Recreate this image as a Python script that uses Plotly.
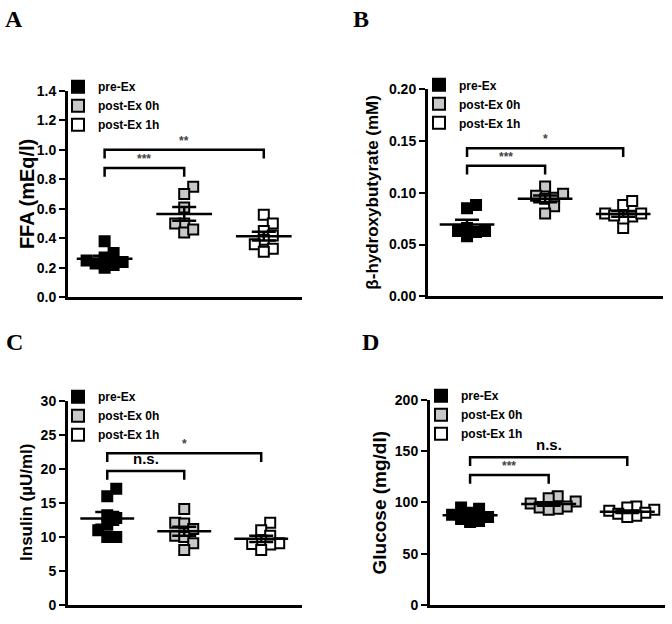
import numpy as np
import plotly.graph_objects as go

W, H = 672, 624

groups = ["pre-Ex", "post-Ex 0h", "post-Ex 1h"]
group_fill = ["#000000", "#c8c8c8", "#ffffff"]

# ---------------- data ----------------
ffa_pre = [0.38, 0.30, 0.27, 0.25, 0.24, 0.22, 0.20, 0.23]
ffa_post0 = [0.75, 0.70, 0.61, 0.50, 0.50, 0.44, 0.46]
ffa_post1 = [0.56, 0.50, 0.45, 0.42, 0.39, 0.36, 0.33, 0.31]

bhb_pre = [0.088, 0.085, 0.066, 0.063, 0.058, 0.062, 0.063]
bhb_post0 = [0.106, 0.097, 0.095, 0.094, 0.087, 0.080, 0.099]
bhb_post1 = [0.088, 0.092, 0.077, 0.066, 0.075, 0.080, 0.080, 0.078]

ins_pre = [17.1, 16.0, 13.2, 12.8, 11.0, 11.8, 10.0, 10.0]
ins_post0 = [14.1, 12.1, 12.0, 11.2, 10.2, 10.0, 9.1, 8.1]
ins_post1 = [12.1, 11.0, 10.2, 9.5, 9.1, 9.0, 8.9, 8.1]

glu_pre = [95, 94, 90, 88, 86, 84, 82, 81]
glu_post0 = [106, 104, 101, 99, 96, 95, 94, 93]
glu_post1 = [96, 95, 93, 92, 90, 89, 87, 86]

# significance brackets: (group from, group to, bracket level, label)
ffa_sig = [(0, 1, 0.877, "***"), (0, 2, 1.0, "**")]
bhb_sig = [(0, 1, 0.126, "***"), (0, 2, 0.1427, "*")]
ins_sig = [(0, 1, 19.7, "n.s."), (0, 2, 22.3, "*")]
glu_sig = [(0, 1, 126.7, "***"), (0, 2, 144.0, "n.s.")]

panel_letters = ["A", "B", "C", "D"]
y_titles = ["FFA (mEq/l)", "β-hydroxybutyrate (mM)", "Insulin (µU/ml)", "Glucose (mg/dl)"]
y_title_sizes = [20, 17, 17, 19]
y_ranges = [(0, 1.4), (0, 0.20), (0, 30), (0, 200)]
y_dticks = [0.2, 0.05, 5, 50]
y_formats = [".1f", ".2f", "d", "d"]

# ---------------- layout geometry (pixels) ----------------
# (x0, x1, ytop, ybottom, xrange)
geo = [
    (68, 302, 85, 297, (-0.46, 2.48)),
    (428, 663, 83, 296, (-0.50, 2.51)),
    (68, 302, 403, 613, (-0.51, 2.53)),
    (430, 665, 402, 613, (-0.51, 2.48)),
]
title_x = [27, 373, 27, 379]
letter_pos = [(14, 11), (361, 11), (14, 343), (370, 343)]
legend_pos = [(58, 66), (419, 64), (58, 384), (421, 383)]

panels = [
    ([ffa_pre, ffa_post0, ffa_post1], ffa_sig),
    ([bhb_pre, bhb_post0, bhb_post1], bhb_sig),
    ([ins_pre, ins_post0, ins_post1], ins_sig),
    ([glu_pre, glu_post0, glu_post1], glu_sig),
]

MS = 10  # marker size px


def swarm(vals, ppx, ppy, size=MS):
    """Beeswarm-style horizontal offsets (in data x units) so squares do not overlap too much."""
    order = sorted(range(len(vals)), key=lambda i: vals[i])
    placed = []
    offs = [0.0] * len(vals)
    step = size * 0.9
    cands = [0, 1, -1, 2, -2, 3, -3, 4, -4]
    for i in order:
        ypx = vals[i] * ppy
        xpx = 0.0
        for c in cands:
            xpx = c * step
            ok = all(not (abs(xpx - px) < size * 0.85 and abs(ypx - py) < size * 0.85)
                     for px, py in placed)
            if ok:
                break
        placed.append((xpx, ypx))
        offs[i] = xpx / ppx
    return offs


fig = go.Figure()
layout = dict(
    width=W, height=H, margin=dict(l=0, r=0, t=0, b=0),
    paper_bgcolor="white", plot_bgcolor="white", showlegend=True,
)
annotations = []
shapes = []
FONT = "Liberation Sans"

for p, ((series, sig), (x0, x1, yt, yb, xr)) in enumerate(zip(panels, geo)):
    k = "" if p == 0 else str(p + 1)
    xa, ya = "x" + k, "y" + k
    leg = "legend" + k
    yr = y_ranges[p]
    ppx = (x1 - x0) / (xr[1] - xr[0])
    ppy = (yb - yt) / (yr[1] - yr[0])

    layout["xaxis" + k] = dict(
        domain=[x0 / W, x1 / W], range=list(xr), anchor=ya,
        showline=True, linecolor="black", linewidth=3, showticklabels=False,
        ticks="", showgrid=False, zeroline=False, fixedrange=True,
    )
    layout["yaxis" + k] = dict(
        domain=[1 - yb / H, 1 - yt / H], range=list(yr), anchor=xa,
        showline=True, linecolor="black", linewidth=3, ticks="outside",
        ticklen=6, tickwidth=2, tickcolor="black", dtick=y_dticks[p], tick0=0,
        tickformat=y_formats[p], showgrid=False, zeroline=False, fixedrange=True,
        tickfont=dict(family=FONT, size=14, color="black", weight="bold"),
    )
    layout[leg] = dict(
        x=legend_pos[p][0] / W, y=1 - legend_pos[p][1] / H, xanchor="left", yanchor="top",
        bgcolor="rgba(0,0,0,0)", borderwidth=0, itemsizing="constant", itemwidth=30,
        tracegroupgap=0, traceorder="normal",
        font=dict(family=FONT, size=12, color="black", weight="bold"),
    )

    # points
    for g, vals in enumerate(series):
        offs = swarm(vals, ppx, ppy)
        fig.add_trace(go.Scatter(
            x=[g + o for o in offs], y=vals, mode="markers", name=groups[g],
            xaxis=xa, yaxis=ya, legend=leg, cliponaxis=False,
            marker=dict(symbol="square", size=MS, color=group_fill[g],
                        line=dict(color="black", width=2)),
            hoverinfo="y",
        ))
    # mean and SEM
    for g, vals in enumerate(series):
        arr = np.asarray(vals, dtype=float)
        m = arr.mean()
        sem = arr.std(ddof=1) / np.sqrt(len(arr))
        fig.add_trace(go.Scatter(
            x=[g - 0.35, g + 0.35], y=[m, m], mode="lines", xaxis=xa, yaxis=ya,
            line=dict(color="black", width=2.5), showlegend=False, hoverinfo="skip",
        ))
        fig.add_trace(go.Scatter(
            x=[g], y=[m], mode="markers", xaxis=xa, yaxis=ya,
            marker=dict(size=1, color="rgba(0,0,0,0)"), showlegend=False,
            error_y=dict(type="data", array=[sem], symmetric=True, color="black",
                         thickness=2.5, width=12),
            hoverinfo="skip",
        ))
    # significance brackets
    drop = 9 / ppy
    for (ga, gb, lev, lab) in sig:
        shapes.append(dict(
            type="path", xref=xa, yref=ya,
            path=f"M {ga},{lev - drop} L {ga},{lev} L {gb},{lev} L {gb},{lev - drop}",
            line=dict(color="black", width=2.5),
        ))
        ns = lab == "n.s."
        annotations.append(dict(
            x=(ga + gb) / 2, y=lev, xref=xa, yref=ya, text=lab, showarrow=False,
            yanchor="bottom", yshift=2 if ns else 0,
            font=dict(family=FONT, size=15 if ns else 12,
                      color="black" if ns else "#444444", weight="bold"),
        ))

    # y axis title
    annotations.append(dict(
        x=title_x[p] / W, y=1 - (yt + yb) / 2 / H, xref="paper", yref="paper",
        text=y_titles[p], textangle=-90, showarrow=False, xanchor="center", yanchor="middle",
        font=dict(family=FONT, size=y_title_sizes[p], color="black", weight="bold"),
    ))
    # panel letter
    annotations.append(dict(
        x=letter_pos[p][0] / W, y=1 - letter_pos[p][1] / H, xref="paper", yref="paper",
        text=panel_letters[p], showarrow=False, xanchor="center", yanchor="middle",
        font=dict(family="Liberation Serif", size=24, color="black", weight="bold"),
    ))

layout["annotations"] = annotations
layout["shapes"] = shapes
fig.update_layout(**layout)
fig.write_html("out.html", config={"displayModeBar": False},
               post_script="document.body.style.margin='0';")
